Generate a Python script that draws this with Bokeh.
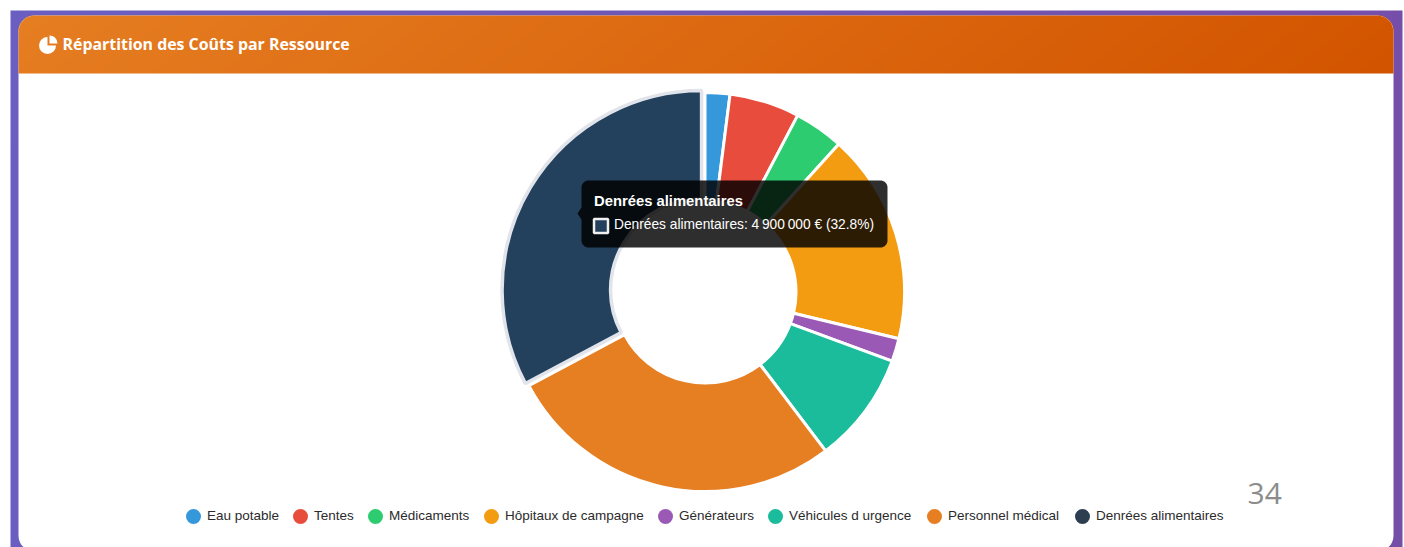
import math

import numpy as np
from bokeh.core.properties import value
from bokeh.embed import file_html
from bokeh.plotting import figure
from bokeh.resources import INLINE

# Cost per resource, in euros
categories = ["Eau potable", "Tentes", "Médicaments", "Hôpitaux de campagne",
              "Générateurs", "Véhicules d urgence", "Personnel médical",
              "Denrées alimentaires"]
costs = [300000, 850000, 600000, 2550000, 280000, 1350000, 4120000, 4900000]
colors = ["#3498db", "#e74c3c", "#2ecc71", "#f39c12",
          "#9b59b6", "#1abc9c", "#e67e22", "#2c3e50"]
active_index = 7
title = "Répartition des Coûts par Ressource"
page_number = "34"

W, H = 1404, 547
CX, CY = 704.5, 291.5
R_OUT, R_IN = 199.5, 91.0
HOVER_OFFSET = 4.0
SANS = value("Liberation Sans")


def rounded(x0, y0, x1, y1, tl, tr, br, bl):
    """Outline of a rectangle whose corners have the given radii."""
    xs, ys = [], []
    corners = [(x0 + tl, y0 + tl, tl, 180), (x1 - tr, y0 + tr, tr, 270),
               (x1 - br, y1 - br, br, 0), (x0 + bl, y1 - bl, bl, 90)]
    for cx, cy, r, start in corners:
        for a in np.linspace(start, start + 90, 12):
            xs.append(cx + r * math.cos(math.radians(a)))
            ys.append(cy + r * math.sin(math.radians(a)))
    return xs, ys


def gradient(w, h, left, right):
    """Left-to-right colour ramp with a slight diagonal, as an RGBA array."""
    u = np.linspace(0, 1, w)[None, :] * 0.95 + np.linspace(0, 0.05, h)[:, None]
    img = np.zeros((h, w), dtype=np.uint32)
    view = img.view(dtype=np.uint8).reshape((h, w, 4))
    for i in range(3):
        view[:, :, i] = (left[i] + (right[i] - left[i]) * u).astype(np.uint8)
    view[:, :, 3] = 255
    return img


p = figure(width=W, height=H, x_range=(0, W), y_range=(H, 0),
           output_backend="svg", toolbar_location=None, min_border=0,
           outline_line_color=None, background_fill_color="white",
           border_fill_color="white")
p.axis.visible = False
p.grid.visible = False

# Purple page band behind the card
p.image_rgba(image=[gradient(700, 4, (106, 96, 194), (118, 78, 168))],
             x=10, y=10, dw=W - 12, dh=H - 10)

# White card, running slightly past the bottom of the page
xs, ys = rounded(18, 15, 1393, 551, 16, 16, 16, 16)
p.patch(xs, ys, fill_color="white", line_color=None)

# Orange header with rounded top corners
head_w, head_h = 1375, 58
head = gradient(head_w, head_h, (230, 126, 34), (211, 84, 0))
pixels = head.view(dtype=np.uint8).reshape((head_h, head_w, 4))
for row in range(16):
    cut = int(round(16 - math.sqrt(max(0.0, 256 - (16 - row - 0.5) ** 2))))
    pixels[row, :cut, 3] = 0
    pixels[row, head_w - cut:, 3] = 0
p.image_rgba(image=[head], x=18, y=15, dw=head_w, dh=head_h)

# Header icon and title
p.annular_wedge(x=[47], y=[45], inner_radius=0, outer_radius=8.5,
                start_angle=[math.radians(90)], end_angle=[math.radians(360)],
                fill_color="white", line_color=None)
p.annular_wedge(x=[49], y=[43], inner_radius=0, outer_radius=8.0,
                start_angle=[math.radians(0)], end_angle=[math.radians(90)],
                fill_color="white", line_color=None)
p.text(x=[62], y=[43.5], text=[title], text_font=value("Open Sans"),
       text_font_style="bold", text_font_size="15.9px", text_color="white",
       text_baseline="middle")

# Donut slices, clockwise from twelve o'clock
total = sum(costs)
theta = 0.0
active = None
for i, (cost, color) in enumerate(zip(costs, colors)):
    sweep = cost / total * 2 * math.pi
    start, end = math.pi / 2 - theta - sweep, math.pi / 2 - theta
    if i == active_index:
        active = (start, end, color)
    else:
        p.annular_wedge(x=[CX], y=[CY], inner_radius=R_IN, outer_radius=R_OUT,
                        start_angle=[start], end_angle=[end],
                        fill_color=color, line_color="white", line_width=3)
    theta += sweep

# The hovered slice sits slightly outside the ring with a pale outline
start, end, color = active
mid = (start + end) / 2
p.annular_wedge(x=[CX + HOVER_OFFSET * math.cos(mid)],
                y=[CY - HOVER_OFFSET * math.sin(mid)],
                inner_radius=R_IN, outer_radius=R_OUT,
                start_angle=[start], end_angle=[end],
                fill_color="#23405c", line_color="#e1e4ea", line_width=3.5)

# Legend row
legend_dot_x = [193, 300, 375, 491, 665, 775, 934, 1082]
p.scatter(x=legend_dot_x, y=[516] * len(colors), size=15, marker="circle",
          fill_color=colors, line_color=None)
p.text(x=[x + 13.5 for x in legend_dot_x], y=[515] * len(categories),
       text=categories, text_font=SANS, text_font_size="13.5px",
       text_color="#2b2b2b", text_baseline="middle")

# Tooltip for the hovered slice
tx, ty = rounded(581, 180, 887, 247, 7, 7, 7, 7)
tx = tx + [581, 577, 581]
ty = ty + [219, 213, 207]
p.patch(tx, ty, fill_color="black", fill_alpha=0.82, line_color=None)
p.text(x=[593.5], y=[200], text=[categories[active_index]], text_font=SANS,
       text_font_style="bold", text_font_size="14.8px", text_color="white",
       text_baseline="middle")
p.rect(x=[600.5], y=[225.5], width=14, height=14, fill_color="#23405c",
       line_color="#f0f0f0", line_width=2.5)
share = costs[active_index] / total * 100
amount = f"{costs[active_index]:,}".replace(",", "\u202f")
p.text(x=[613.5], y=[224],
       text=[f"{categories[active_index]}: {amount} € ({share:.1f}%)"],
       text_font=SANS, text_font_size="13.75px", text_color="white",
       text_baseline="middle")

# Slide number
p.text(x=[1247], y=[493], text=[page_number], text_font=value("Open Sans"),
       text_font_size="30px", text_color="#8c8c8c", text_baseline="middle")

open("out.html", "w").write(file_html(p, INLINE))
